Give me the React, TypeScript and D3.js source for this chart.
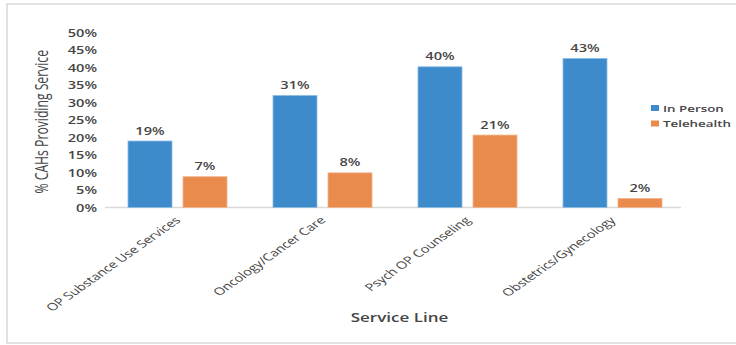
import React from "react";
import * as d3 from "d3";

const categories = [
  "OP Substance Use Services",
  "Oncology/Cancer Care",
  "Psych OP Counseling",
  "Obstetrics/Gynecology",
];
const seriesNames = ["In Person", "Telehealth"];
// bar heights as drawn in the picture
const inPerson = [0.19, 0.32, 0.402, 0.426];
const telehealth = [0.088, 0.099, 0.207, 0.026];
// data labels as printed in the picture
const inPersonLabels = ["19%", "31%", "40%", "43%"];
const telehealthLabels = ["7%", "8%", "21%", "2%"];
const yTitle = "% CAHs Providing Service";
const xTitle = "Service Line";

const W = 736;
const H = 345;
const SX = 1.42; // horizontal stretch of the original picture
const FONT = "'Open Sans', 'DejaVu Sans', sans-serif";
const TXT = "#454545";
const colors = ["#3d8bcb", "#e98b4c"];
const strokes = ["#8dbde6", "#f2b58c"];

export default function App() {
  const x = d3.scaleBand<string>().domain(categories).range([105, 685]).paddingInner(0).paddingOuter(0);
  const xs = d3
    .scaleBand<string>()
    .domain(seriesNames)
    .range([0, x.bandwidth()])
    .paddingInner(0.2)
    .paddingOuter(0.418);
  const y = d3.scaleLinear().domain([0, 0.5]).range([207.5, 32.5]);
  const fmt = d3.format(".0%");
  const series = [
    { name: seriesNames[0], values: inPerson, labels: inPersonLabels },
    { name: seriesNames[1], values: telehealth, labels: telehealthLabels },
  ];
  const ticks = y.ticks(10);

  return (
    <svg
      width={W}
      height={H}
      style={{ position: "fixed", left: 0, top: 0, background: "#fff" }}
      fontFamily={FONT}
    >
      <rect x={7} y={4} width={740} height={339} fill="#fff" stroke="#d9d9d9" strokeWidth={1.5} />

      {/* y tick labels */}
      {ticks.map((t) => (
        <text
          key={t}
          transform={`translate(97,${y(t)}) scale(${SX},1)`}
          textAnchor="end"
          dominantBaseline="central"
          fontSize={10.3}
          fontWeight={600}
          fill={TXT}
        >
          {fmt(t)}
        </text>
      ))}

      {/* y title */}
      <text
        transform={`translate(48,${y(0.245)}) scale(${SX},1) rotate(-90)`}
        textAnchor="middle"
        fontSize={12.2}
        fill={TXT}
      >
        {yTitle}
      </text>

      {/* x axis line */}
      <line x1={105} x2={681} y1={y(0)} y2={y(0)} stroke="#d9d9d9" strokeWidth={1.5} />

      {/* bars */}
      {series.map((s, si) =>
        categories.map((c, ci) => {
          const bx = (x(c) ?? 0) + (xs(s.name) ?? 0);
          const by = y(s.values[ci]);
          return (
            <g key={`${si}-${ci}`}>
              <rect
                x={bx}
                y={by}
                width={xs.bandwidth()}
                height={y(0) - by}
                fill={colors[si]}
                stroke={strokes[si]}
                strokeWidth={0.8}
              />
              <text
                transform={`translate(${bx + xs.bandwidth() / 2},${by - 6.5}) scale(${SX},1)`}
                textAnchor="middle"
                fontSize={10.3}
                fontWeight={600}
                fill={TXT}
              >
                {s.labels[ci]}
              </text>
            </g>
          );
        })
      )}

      {/* category labels */}
      {categories.map((c) => (
        <text
          key={c}
          transform={`translate(${(x(c) ?? 0) + x.bandwidth() / 2 + 4},${y(0) + 13.5}) scale(${SX},1) rotate(-45)`}
          textAnchor="end"
          fontSize={10.3}
          fill={TXT}
        >
          {c}
        </text>
      ))}

      {/* x title */}
      <text
        transform={`translate(399.5,${317 + 4.5}) scale(${SX},1)`}
        textAnchor="middle"
        fontSize={12}
        fontWeight={600}
        fill={TXT}
      >
        {xTitle}
      </text>

      {/* legend */}
      {seriesNames.map((n, i) => (
        <g key={n} transform={`translate(651,${108 + i * 15.5})`}>
          <rect x={0} y={-3} width={8} height={6} fill={colors[i]} />
          <text
            transform={`translate(12,0) scale(${SX},1)`}
            dominantBaseline="central"
            fontSize={9.4}
            fontWeight={600}
            fill={TXT}
          >
            {n}
          </text>
        </g>
      ))}
    </svg>
  );
}
